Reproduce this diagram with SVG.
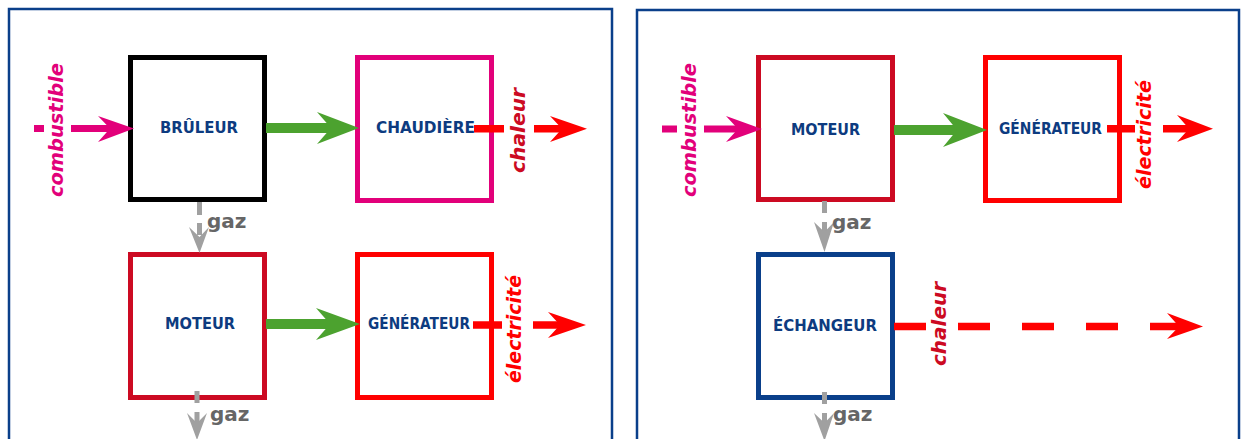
<svg xmlns="http://www.w3.org/2000/svg" width="1241" height="439" viewBox="0 0 1241 439">
<style>
.panel{fill:none;stroke:#0a3f8a;stroke-width:2.5}
.box{fill:#fff;stroke-width:5}
.lbl{font-family:"DejaVu Sans",Verdana,sans-serif;font-weight:bold;font-size:15px;fill:#0d3b80;text-anchor:middle}
.flow{font-family:"DejaVu Sans",Verdana,sans-serif;font-weight:bold;font-style:italic;font-size:20px;text-anchor:middle}
.gaz{font-family:"DejaVu Sans",Verdana,sans-serif;font-weight:bold;font-size:20px;fill:#666}
.pink{stroke:#e2007a;stroke-width:7;fill:none}
.red{stroke:#ff0000;stroke-width:7.5;fill:none}
.green{stroke:#4ca22f;stroke-width:10;fill:none}
.grey{stroke:#a0a0a0;stroke-width:5;fill:none}
.hp{fill:#e2007a}.hr{fill:#ff0000}.hg{fill:#4ca22f}.hy{fill:#a0a0a0}
</style>
<rect width="1241" height="439" fill="#fff"/>
<g id="panels">
<path class="panel" d="M9 445 V9 H612 V445"/>
<path class="panel" d="M637 445 V10 H1239 V445"/>
</g>
<g id="bruleur"><rect class="box" x="130.5" y="57.5" width="134" height="142" stroke="#000"/><text class="lbl" x="199" y="133" textLength="78" lengthAdjust="spacingAndGlyphs">BRÛLEUR</text></g>
<g id="chaudiere"><rect class="box" x="357.5" y="57.5" width="134" height="143" stroke="#e2007a"/><text class="lbl" x="425.5" y="133" textLength="99" lengthAdjust="spacingAndGlyphs">CHAUDIÈRE</text></g>
<g id="moteur-l"><rect class="box" x="130.5" y="254.5" width="134" height="143" stroke="#cc0a22"/><text class="lbl" x="200" y="329" textLength="70" lengthAdjust="spacingAndGlyphs">MOTEUR</text></g>
<g id="generateur-l"><rect class="box" x="357.5" y="254.5" width="134" height="143" stroke="#ff0000"/><text class="lbl" x="419" y="329" textLength="102" lengthAdjust="spacingAndGlyphs">GÉNÉRATEUR</text></g>
<g id="moteur-r"><rect class="box" x="758.5" y="57.5" width="134" height="142" stroke="#cc0a22"/><text class="lbl" x="825.5" y="135" textLength="69" lengthAdjust="spacingAndGlyphs">MOTEUR</text></g>
<g id="generateur-r"><rect class="box" x="985.5" y="57.5" width="134" height="143" stroke="#ff0000"/><text class="lbl" x="1050.5" y="134" textLength="103" lengthAdjust="spacingAndGlyphs">GÉNÉRATEUR</text></g>
<g id="echangeur"><rect class="box" x="758.5" y="254.5" width="134" height="143" stroke="#0a3f8a"/><text class="lbl" x="825" y="331" textLength="104" lengthAdjust="spacingAndGlyphs">ÉCHANGEUR</text></g>
<g id="connectors">
<!-- left panel -->
<line class="pink" x1="34" y1="128.5" x2="112" y2="128.5" stroke-dasharray="10 27 100"/>
<polygon class="hp" points="134,128.5 98,116 110,128.5 98,142"/>
<line class="green" x1="266" y1="128" x2="340" y2="128"/>
<polygon class="hg" points="359,128 317,112 331,128 317,144"/>
<line class="red" x1="474" y1="128.7" x2="566" y2="128.7" stroke-dasharray="30 30 100"/>
<polygon class="hr" points="587,128.7 550,116 562,128.7 550,142"/>
<line class="grey" x1="199.5" y1="202" x2="199.5" y2="235" stroke-dasharray="13 8 100"/>
<polygon class="hy" points="199.5,253 189,227 199.5,237 209,227"/>
<line class="green" x1="266" y1="324" x2="340" y2="324"/>
<polygon class="hg" points="360,324 316,308 330,324 316,340"/>
<line class="red" x1="473" y1="325" x2="565" y2="325" stroke-dasharray="29 31 100"/>
<polygon class="hr" points="586,325 548,312 560,325 548,338"/>
<line class="grey" x1="197" y1="391" x2="197" y2="425" stroke-dasharray="12 9 100"/>
<polygon class="hy" points="197,440 187,413 197,423 207,413"/>
<!-- right panel -->
<line class="pink" x1="662" y1="129" x2="740" y2="129" stroke-dasharray="15 27 100"/>
<polygon class="hp" points="762,129 726,116 738,129 726,142"/>
<line class="green" x1="894" y1="130" x2="970" y2="130"/>
<polygon class="hg" points="987,130 943,113 957,130 943,147"/>
<line class="red" x1="1107" y1="128.7" x2="1192" y2="128.7" stroke-dasharray="28 28 100"/>
<polygon class="hr" points="1213,128.7 1177,115 1189,128.7 1177,142"/>
<line class="grey" x1="824.5" y1="201" x2="824.5" y2="232" stroke-dasharray="12 9 100"/>
<polygon class="hy" points="824.5,252 814,222 824.5,232 834,222"/>
<line class="red" x1="894" y1="326.4" x2="1182" y2="326.4" stroke-dasharray="32 32"/>
<polygon class="hr" points="1203,326.4 1167,313 1179,326.4 1167,339"/>
<line class="grey" x1="824.5" y1="392" x2="824.5" y2="425" stroke-dasharray="12 9 100"/>
<polygon class="hy" points="824.5,441 814,413 824.5,423 834,413"/>
</g>
<g id="flow-labels">
<text class="flow" fill="#e2007a" transform="translate(63,130) rotate(-90)" textLength="134" lengthAdjust="spacingAndGlyphs">combustible</text>
<text class="flow" fill="#cc0a22" transform="translate(525,130.5) rotate(-90)" textLength="85" lengthAdjust="spacingAndGlyphs">chaleur</text>
<text class="flow" fill="#ff0000" transform="translate(521,329) rotate(-90)" textLength="108" lengthAdjust="spacingAndGlyphs">électricité</text>
<text class="flow" fill="#e2007a" transform="translate(696,130) rotate(-90)" textLength="134" lengthAdjust="spacingAndGlyphs">combustible</text>
<text class="flow" fill="#ff0000" transform="translate(1151,134.5) rotate(-90)" textLength="109" lengthAdjust="spacingAndGlyphs">électricité</text>
<text class="flow" fill="#cc0a22" transform="translate(946,324) rotate(-90)" textLength="84" lengthAdjust="spacingAndGlyphs">chaleur</text>
<text class="gaz" x="207" y="228">gaz</text>
<text class="gaz" x="210" y="421">gaz</text>
<text class="gaz" x="832" y="229">gaz</text>
<text class="gaz" x="833" y="421">gaz</text>
</g>
</svg>
